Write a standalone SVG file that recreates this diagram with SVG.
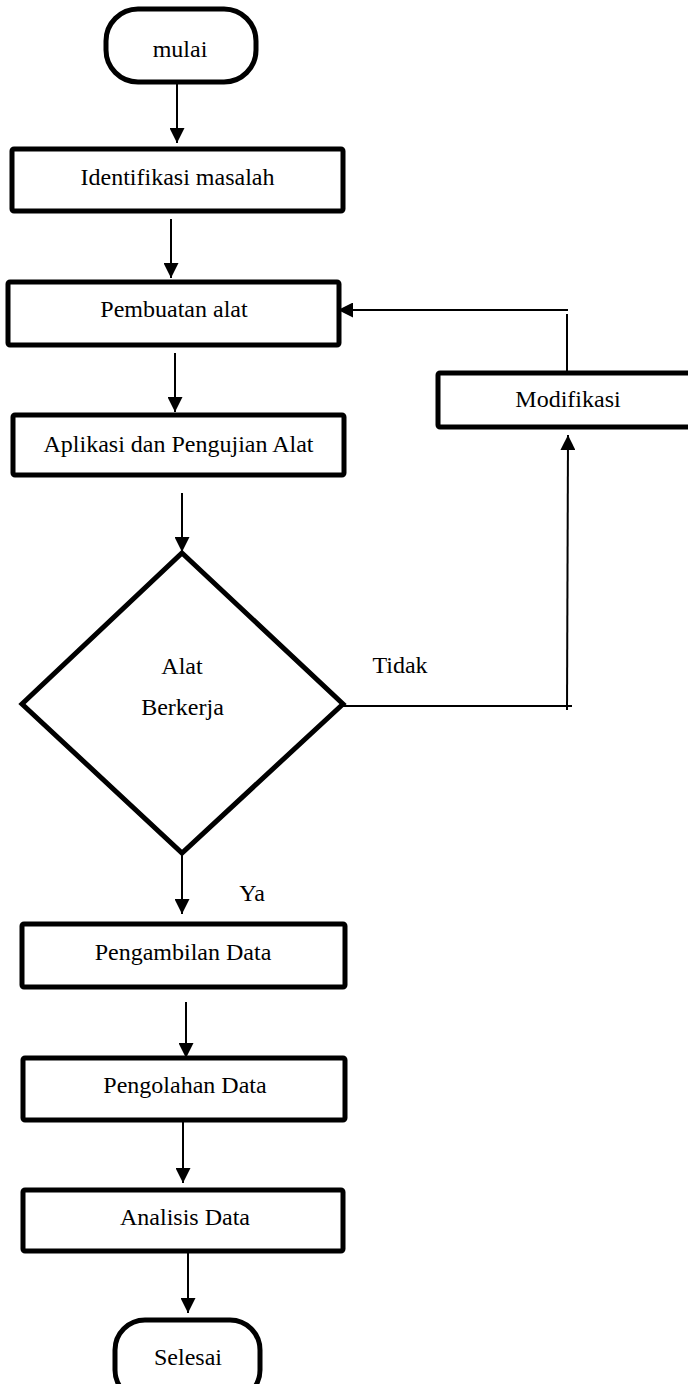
<svg xmlns="http://www.w3.org/2000/svg" width="688" height="1384" viewBox="0 0 688 1384">
<style>
.box{fill:#fff;stroke:#000;stroke-width:5;}
.ln{fill:none;stroke:#000;stroke-width:2;}
text{font-family:"Liberation Serif","Times New Roman",serif;font-size:24px;fill:#000;text-anchor:middle;}
</style>
<defs>
<marker id="ah" markerUnits="userSpaceOnUse" markerWidth="15" markerHeight="15" viewBox="0 0 15 15" refX="15" refY="7.5" orient="auto">
<path d="M0,0 L15,7.5 L0,15 Z" fill="#000"/>
</marker>
</defs>
<g id="connectors">
<line class="ln" x1="177" y1="83" x2="177" y2="143" marker-end="url(#ah)"/>
<line class="ln" x1="171" y1="219" x2="171" y2="278" marker-end="url(#ah)"/>
<line class="ln" x1="175" y1="353" x2="175" y2="412" marker-end="url(#ah)"/>
<line class="ln" x1="182" y1="493" x2="182" y2="552" marker-end="url(#ah)"/>
<line class="ln" x1="182" y1="853" x2="182" y2="914" marker-end="url(#ah)"/>
<line class="ln" x1="186" y1="1002" x2="186" y2="1058" marker-end="url(#ah)"/>
<line class="ln" x1="183" y1="1122" x2="183" y2="1183" marker-end="url(#ah)"/>
<line class="ln" x1="188" y1="1252" x2="188" y2="1313" marker-end="url(#ah)"/>
<polyline class="ln" points="343,706 572,706"/>
<line class="ln" x1="567" y1="710" x2="568" y2="435" marker-end="url(#ah)"/>
<line class="ln" x1="567" y1="373" x2="567" y2="314"/>
<line class="ln" x1="568" y1="310" x2="338" y2="310" marker-end="url(#ah)"/>
<text x="400" y="673">Tidak</text>
<text x="252" y="901">Ya</text>
</g>
<g id="mulai">
<rect class="box" x="106" y="9" width="150" height="73" rx="32" ry="32"/>
<text x="180" y="57">mulai</text>
</g>
<g id="identifikasi">
<rect class="box" x="12" y="149" width="331" height="62" rx="2"/>
<text x="177.5" y="185">Identifikasi masalah</text>
</g>
<g id="pembuatan">
<rect class="box" x="8" y="282" width="331" height="63" rx="2"/>
<text x="174" y="317">Pembuatan alat</text>
</g>
<g id="aplikasi">
<rect class="box" x="13" y="415" width="331" height="60" rx="2"/>
<text x="178.5" y="452">Aplikasi dan Pengujian Alat</text>
</g>
<g id="modifikasi">
<rect class="box" x="438" y="373" width="255" height="54" rx="2"/>
<text x="568" y="407">Modifikasi</text>
</g>
<g id="keputusan">
<polygon class="box" points="182,553 343,704 182,853 22,704"/>
<text x="182" y="674">Alat</text>
<text x="182.5" y="715">Berkerja</text>
</g>
<g id="pengambilan">
<rect class="box" x="22" y="924" width="323" height="63" rx="2"/>
<text x="183" y="960">Pengambilan Data</text>
</g>
<g id="pengolahan">
<rect class="box" x="23" y="1058" width="322" height="62" rx="2"/>
<text x="185" y="1093">Pengolahan Data</text>
</g>
<g id="analisis">
<rect class="box" x="23" y="1190" width="320" height="61" rx="2"/>
<text x="185" y="1225">Analisis Data</text>
</g>
<g id="selesai">
<rect class="box" x="115" y="1320" width="145" height="80" rx="30" ry="30"/>
<text x="188" y="1365">Selesai</text>
</g>
</svg>
